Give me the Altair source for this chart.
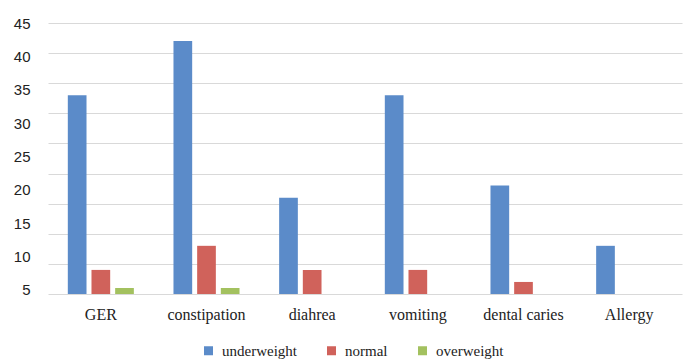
import altair as alt
import pandas as pd

# Symptom counts per weight group
categories = ["GER", "constipation", "diahrea", "vomiting", "dental caries", "Allergy"]
groups = ["underweight", "normal", "overweight"]
underweight = [33, 42, 16, 33, 18, 8]
normal = [4, 8, 4, 4, 2, 0]
overweight = [1, 1, 0, 0, 0, 0]
colors = ["#5B8BC9", "#D0625B", "#A3C15F"]

# Tick labels printed along the value axis
tick_labels = [5, 10, 15, 20, 25, 30, 35, 40, 45]
grid_values = [0, 5, 10, 15, 20, 25, 30, 35, 40, 45]

rows = []
for series, vals in zip(groups, [underweight, normal, overweight]):
    for cat, v in zip(categories, vals):
        rows.append({"symptom": cat, "group": series, "count": v})
df = pd.DataFrame(rows)
labels_df = pd.DataFrame({"tick": tick_labels})

SERIF = "Liberation Serif"
SANS = "Liberation Sans"

bars = alt.Chart(df).mark_bar().encode(
    x=alt.X(
        "symptom:N",
        sort=categories,
        title=None,
        scale=alt.Scale(paddingInner=0.375, paddingOuter=0.1875),
        axis=alt.Axis(
            labelAngle=0,
            labelFont=SERIF,
            labelFontSize=16,
            labelColor="#222222",
            labelPadding=12,
            ticks=False,
            domain=False,
            grid=False,
        ),
    ),
    xOffset=alt.XOffset(
        "group:N", sort=groups, scale=alt.Scale(paddingInner=0.21, paddingOuter=0)
    ),
    y=alt.Y(
        "count:Q",
        title=None,
        scale=alt.Scale(domain=[0, 45], nice=False, zero=True),
        axis=alt.Axis(
            orient="left",
            values=grid_values,
            labels=False,
            ticks=False,
            domain=False,
            grid=True,
            gridColor="#D9D9D9",
            gridWidth=1,
            minExtent=0,
            maxExtent=0,
        ),
    ),
    color=alt.Color(
        "group:N",
        sort=groups,
        scale=alt.Scale(domain=groups, range=colors),
        legend=alt.Legend(
            title=None,
            orient="none",
            legendX=153,
            legendY=320,
            direction="horizontal",
            symbolType="square",
            symbolSize=81,
            symbolStrokeWidth=0,
            labelFont="Times New Roman",
            labelFontSize=15,
            labelColor="#222222",
            labelOffset=6,
            columnPadding=27,
            labelLimit=0,
        ),
    ),
)

# Printed value labels on the left side
tick_axis = alt.Chart(labels_df).mark_point(opacity=0).encode(
    y=alt.Y(
        "tick:Q",
        title=None,
        scale=alt.Scale(domain=[4.4, 45], nice=False, zero=False),
        axis=alt.Axis(
            orient="left",
            values=tick_labels,
            grid=False,
            ticks=False,
            domain=False,
            labelFont=SANS,
            labelFontSize=15,
            labelColor="#222222",
            labelPadding=18,
        ),
    ),
)

chart = (
    alt.layer(bars, tick_axis)
    .resolve_scale(y="independent")
    .properties(
        width=634,
        height=271,
        autosize=alt.AutoSizeParams(type="none"),
        padding={"left": 48, "top": 23, "right": 1, "bottom": 66},
        background="white",
    )
    .configure_view(stroke=None)
)

chart.save("out.html", embed_options={"renderer": "svg", "actions": False})
